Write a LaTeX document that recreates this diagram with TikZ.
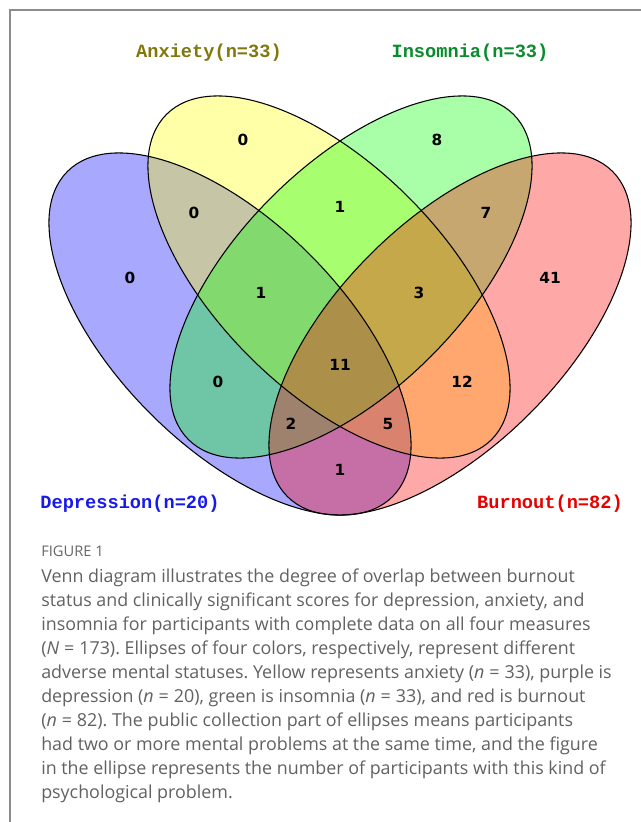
\documentclass[tikz,border=0pt]{standalone}
\usepackage{fontspec}
\newfontfamily\cntfont{DejaVu Sans}
\newfontfamily\ttlfont{Liberation Mono}
\newfontfamily\capfont{Open Sans}
\usetikzlibrary{positioning}
\frenchspacing
\definecolor{setD}{RGB}{0,0,255}
\definecolor{setA}{RGB}{255,255,0}
\definecolor{setI}{RGB}{0,255,0}
\definecolor{setB}{RGB}{255,0,0}
\definecolor{ttlD}{RGB}{25,25,235}
\definecolor{ttlA}{RGB}{128,120,10}
\definecolor{ttlI}{RGB}{10,140,45}
\definecolor{ttlB}{RGB}{230,0,0}
\def\ra{229.9}
\def\rb{112.6}
\tikzset{
  setfill/.style={fill=#1, fill opacity=0.34},
  setline/.style={draw=black, line width=0.8pt},
  tiltdown/.style={rotate around={-45:#1}},
  tiltup/.style={rotate around={45:#1}},
  cnt/.style={font=\cntfont\bfseries\fontsize{11.5}{13}\selectfont, inner sep=0pt},
  ttl/.style={font=\ttlfont\bfseries\fontsize{14}{16}\selectfont, text=#1, inner sep=0pt, anchor=base},
  figlabel/.style={font=\capfont\fontsize{11}{13}\selectfont, text=black!60, inner sep=0pt, anchor=base west},
  capline/.style={font=\capfont\fontsize{13.4}{18}\selectfont, text=black!62, inner sep=0pt, anchor=base west},
  frameline/.style={draw=black!45, line width=1.1pt},
}
\begin{document}
\begin{tikzpicture}[x=0.75pt, y=-0.75pt]
  \useasboundingbox (0,0) rectangle (641,822);
  \draw[frameline] (10,822) -- (10,10) -- (641,10);
  % ellipse centres
  \coordinate (cD) at (230,334);
  \coordinate (cA) at (329,277);
  \coordinate (cI) at (351,277);
  \coordinate (cB) at (450,334);
  % fills first, outlines on top
  \fill[setfill=setD, tiltdown={(cD)}] (cD) ellipse [x radius=\ra, y radius=\rb];
  \fill[setfill=setA, tiltdown={(cA)}] (cA) ellipse [x radius=\ra, y radius=\rb];
  \fill[setfill=setI, tiltup={(cI)}] (cI) ellipse [x radius=\ra, y radius=\rb];
  \fill[setfill=setB, tiltup={(cB)}] (cB) ellipse [x radius=\ra, y radius=\rb];
  \draw[setline, tiltdown={(cD)}] (cD) ellipse [x radius=\ra, y radius=\rb];
  \draw[setline, tiltdown={(cA)}] (cA) ellipse [x radius=\ra, y radius=\rb];
  \draw[setline, tiltup={(cI)}] (cI) ellipse [x radius=\ra, y radius=\rb];
  \draw[setline, tiltup={(cB)}] (cB) ellipse [x radius=\ra, y radius=\rb];
  % set titles
  \node[ttl=ttlA] (tA) at (209,57) {Anxiety(n=33)};
  \node[ttl=ttlI] (tI) at (470,57) {Insomnia(n=33)};
  \node[ttl=ttlD] (tD) at (130,508) {Depression(n=20)};
  \node[ttl=ttlB] (tB) at (550,508) {Burnout(n=82)};
  % region counts
  \node[cnt] (nD)    at (130,278) {0};
  \node[cnt] (nA)    at (243,140) {0};
  \node[cnt] (nI)    at (437,140) {8};
  \node[cnt] (nB)    at (550,278) {41};
  \node[cnt] (nDA)   at (194,213) {0};
  \node[cnt] (nAI)   at (340,207) {1};
  \node[cnt] (nIB)   at (486,213) {7};
  \node[cnt] (nDAI)  at (261,293) {1};
  \node[cnt] (nAIB)  at (419,293) {3};
  \node[cnt] (nDI)   at (218,382) {0};
  \node[cnt] (nDAIB) at (340,365) {11};
  \node[cnt] (nAB)   at (462,382) {12};
  \node[cnt] (nDAB)  at (291,424) {2};
  \node[cnt] (nDIB)  at (388,424) {5};
  \node[cnt] (nDB)   at (340,470) {1};
  % caption
  \node[figlabel] (fig) at (41,556) {FIGURE 1};
  \foreach \ln [count=\i from 0] in {
      {Venn diagram illustrates the degree of overlap between burnout},
      {status and clinically significant scores for depression, anxiety, and},
      {insomnia for participants with complete data on all four measures},
      {(\textit{N}\;=\;173). Ellipses of four colors, respectively, represent different},
      {adverse mental statuses. Yellow represents anxiety (\textit{n}\;=\;33), purple is},
      {depression (\textit{n}\;=\;20), green is insomnia (\textit{n}\;=\;33), and red is burnout},
      {(\textit{n}\;=\;82). The public collection part of ellipses means participants},
      {had two or more mental problems at the same time, and the figure},
      {in the ellipse represents the number of participants with this kind of},
      {psychological problem.}}
    \node[capline] (cap\i) at (41,582+24*\i) {\ln};
\end{tikzpicture}
\end{document}
